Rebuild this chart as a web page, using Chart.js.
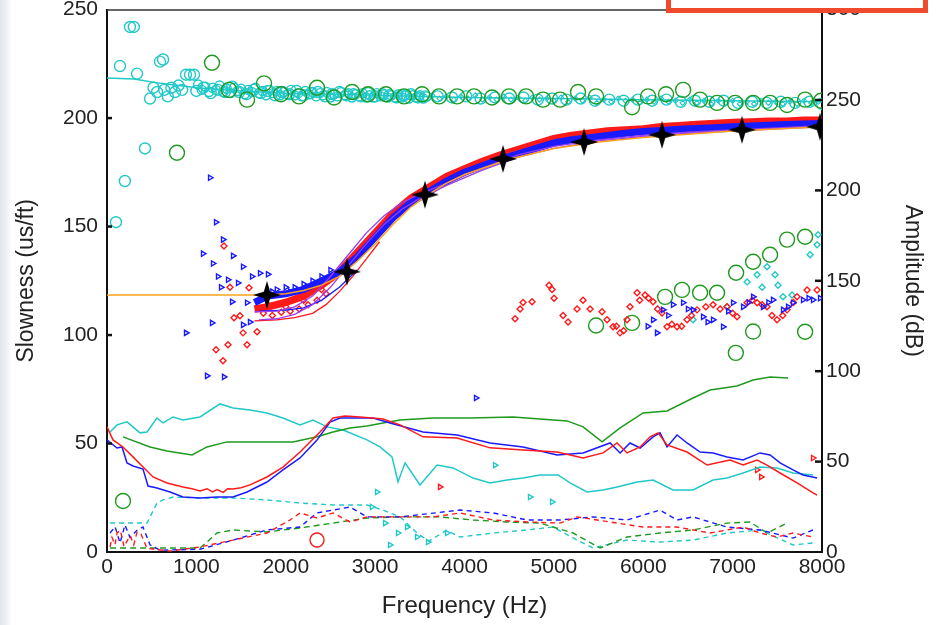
<!DOCTYPE html>
<html>
<head>
<meta charset="utf-8">
<script src="https://cdn.jsdelivr.net/npm/chart.js@4/dist/chart.umd.min.js"></script>
<style>
html,body{margin:0;padding:0;background:#fff;}
#wrap{position:relative;width:938px;height:625px;overflow:hidden;}
#leftStrip{position:absolute;left:0;top:0;width:12px;height:625px;background:linear-gradient(to right,#dfe5ea,#f3f5f7 70%,#ffffff);}
#redBox{position:absolute;left:666px;top:-20px;width:262px;height:33px;box-sizing:border-box;border:5px solid #f0492e;background:#fff;}
canvas{position:absolute;left:0;top:0;}
</style>
</head>
<body>
<div id="wrap">
<canvas id="c" width="938" height="625"></canvas>
<div id="leftStrip"></div>
<div id="redBox"></div>
</div>
<script>
// ---------- tick labels ----------
const xTicks = [0,1000,2000,3000,4000,5000,6000,7000,8000];
const slowTicks = [0,50,100,150,200,250];
const ampTicks = [0,50,100,150,200,250,300];

// ---------- slowness (left axis) ----------
const cyanLineF = [0,300,600,1000,1500,2000,3000,4000,5000,6000,7000,8000];
const cyanLineS = [218.5,218,216,214,212.5,211.5,210.5,209.5,209,208.5,208,207.5];

const cyanCircF = [100,200,145,257,300,336,425,481,520,560,593,627,640,680,720,760,800,840,884,929,973,
  1000,1080,1160,1240,1320,1400,1480,1560,1640,1720,1800,1880,1960,2040,2120,2200,2280,2360,2440,2520,2600,2680,2760,2840,2920,3000,3080,3160,3240,3320,3400,3480,3560,
  3700,3860,4020,4180,4340,4500,4660,4820,4980,5140,5300,5460,5620,5780,5940,6100,6260,6420,6580,6740,6900,7060,7220,7380,7540,7700,7860,8000];
const cyanCircS = [152,171,224,242,242,220.5,186,209,214,212,226,227,213,210,214,212,215,213,220,220,220,
  212.5,214,211.5,213,212,214.5,212,211,213,211.5,212.5,210.5,212,211,212.5,210.5,211.5,212,210,211,212,210.5,211,210,211.5,210,211,210.5,209.5,210.5,211,209.5,210,
  210,209.5,210,209,209.5,209,209.5,208.5,209,208.5,209,208,208.5,208,208.5,208,208.5,207.5,208,207.5,208,207,207.5,207,207.5,207,207.5,206.5];

const cyanBandF = [1020,1060,1100,1140,1180,1220,1260,1300,1340,1380,1420,1460,1500,1540,1580,1620,1660,1700,1740,1780,1820,1860,1900,1940,1980,2020,2060,2100,2140,2180,2220,2260,2300,2340,2380,2420,2460,2500,2540,2580,2620,2660,2700,2740,2780,2820,2860,2900,2940,2980,3020,3060,3100,3140,3180,3220,3260,3300,3340,3380,3420,3460,3500,3540,3580];
const cyanBandS = [215.5,213,214.5,212,214,213,215,212,213.5,211.5,214,212.5,213.5,211,213,212,214,211.5,212.5,210.5,213,211.5,212.5,210.5,212,211,213,210.5,211.5,210,212.5,211,212,210,211.5,210.5,212,209.5,211,210,212,210.5,211.5,209.5,211,210,211.5,209.5,210.5,209.5,211.5,210,211,209.5,210.5,209.5,211,209.5,210.5,209,210.5,209.5,210.5,209,210];

const cyanSmallF = [3640,3720,3800,3880,3960,4040,4120,4200,4280,4360,4440,4520,4600,4680,4760,4840,4920,5000,5080,5160,5240,5320,5400,5480,5560,5640,5720,5800,5880,5960,6040,6120,6200,6280,6360,6440,6520,6600,6680,6760,6840,6920,7000,7080,7160,7240,7320,7400,7480,7560,7640,7720,7800,7880,7960];
const cyanSmallS = [210.5,209,210,208.5,210,209,210.5,208.5,209.5,208.5,210,208.5,209.5,208,209.5,208.5,209,208,209.5,207.5,209,208,209.5,207,208.5,207.5,209,208,208.5,207,208.5,207.5,209,207.5,208,207,208.5,207,208,206.5,208,207,208,206.5,207.5,206.5,208,207,207.5,206.5,207.5,206.5,208,207,207.5];

const greenCircF = [179,783,1175,1365,1567,1757,1947,2148,2350,2540,2742,2920,3122,3323,3525,3715,3917,4107,4308,4498,4689,4879,5069,5270,5472,5875,6054,6255,6446,6636,6826,7027,7229,7419,7609,7811,7990,
  5472,5875,6244,6434,6636,6826,7039,7229,7419,7609,7811,7036,7229,7811];
const greenCircS = [23.5,184,225.5,213,208.5,216,211,210,214,209.5,212,211,211,210,211,210,210,210,209.5,210,210,208.5,208.5,212,210,205,210,211,213,208.5,207,207,207,207,206,208.5,208,
  104.4,105.6,117.6,120.8,119.5,119.5,128.7,133.8,137,144,145.3,91.8,101.6,101.5];

const redCircF = [2350];
const redCircS = [5.5];

const starF = [1790,2686,3558,4431,5338,6210,7105,7978];
const starS = [118.5,129.2,164.7,181.2,189,192.3,194.6,196];

const bandF = [1650,1800,2000,2200,2400,2600,2800,3000,3200,3400,3600,3800,4000,4200,4400,4600,4800,5000,5200,5400,5600,5800,6000,6200,6400,6600,6800,7000,7200,7400,7600,7800,8000];
const redBandS = [112,113,115,118,123,129,138,147,156,163,168,173,176.5,180,183,185.5,188,190.5,192,193,194,194.5,195,196,196.5,197,197.5,198,198.2,198.5,198.5,199,199];
const blueBandS = [115,118,119,121,125,129,136,145,154,161,166,171,175,178,181,183.5,186,188.5,190,191,192,193,193.8,194.3,194.8,195.2,195.6,196,196.4,196.7,197,197.3,197.5];

const orangeF = [0,1800,2000,2200,2400,2600,2800,3000,3200,3400,3600,3800,4000,4500,5000,5500,6000,6500,7000,7500,8000];
const orangeS = [118.4,118.4,119,120.5,123,127,134,142,151,159,165,170,174,181,186,189,191,192.5,194,195,196];

const purple1F = [1650,1900,2100,2300,2500,2700,2900,3100,3300,3500,3800,4200,4600,5000,5500,6000,6500,7000,7500,8000];
const purple1S = [110.7,111,113,118,127,137,147,155,161,165,170,177,183,187,190,192,193.5,194.5,195.5,196.5];
const purple2F = [1700,1900,2100,2300,2500,2700,2900,3100,3300,3500,3800,4200,4600,5000,5500,6000,6500,7000,7500,8000];
const purple2S = [107,107.5,109.5,114,122,132,142,151,158,163,169,176,182,186,189.5,191.5,193,194,195,196];

const redThinF = [1650,1900,2100,2300,2450,2600,2750,2900,3050];
const redThinS = [106.5,107,108,110,114,120,127,135,143];
const blueThinF = [1700,2000,2200,2400,2600,2800];
const blueThinS = [111,111.5,112.5,116,122,130];

const blueScatF = [1153,1220,1298,1074,1410,1186,1522,1242,1354,1276,1466,1623,1712,1801,1399,1567,1175,884,1522,1119,1309,1600,4129,
  6110,6154,6221,6333,6446,6557,6669,6781,6893,7005,7117,7229,7340,7452,7564,7676,7788,7900,7978,6050,6280,6500,6720,6950,7180,7400,7620,7850,
  1900,2000,2100,2200,2300,2400,2500,1850,2050];
const blueScatS = [172.5,152,144,137.5,136.5,133,131.5,127,125.5,122,124,127,128.5,128,115.3,114.9,105.6,101,104.7,81.2,80.7,106,71,
  107,101,111.6,114,114.9,111.6,108.4,107,103.8,114.9,113,117.6,113,116.2,111.6,114.9,116.2,116.2,117,104,109,112,106,111,115,115,113,117,
  121,122,122,123.5,125,127,130,120,120];
const redScatF = [1309,1376,1589,1421,1488,1522,1567,1220,1354,1298,1679,
  4566,4622,4655,4756,4946,4980,5002,5103,5159,5259,5326,5405,5539,5595,5662,5740,5819,5852,5931,6020,6110,6210,6266,6378,6490,6602,6781,6938,7050,7162,7274,7385,7497,7609,7721,7833,7945,
  5700,5780,5960,6060,6160,6320,6430,6540,6700,6860,7000,7220,7330,7440,7560,7680,
  1750,1850,1950,2050,2150,2250,2350,2450,1800,2000,2200,2400];
const redScatS = [141,122,121.8,108,108.9,101,95.5,93.2,95.5,88.1,101.5,
  107.5,112,115,115.3,123,121,117,109,106,112,116,112,110.7,107,103.8,101,107,113,119.5,118.5,115.3,110.2,103.8,103.8,107,111.6,114,113,108.4,114.9,114.9,113,107,111.6,117.6,120.8,120.8,
  104,102,116,117,112,105,104,109,113,112,110,116,114,109,109,115,
  110,109,110.5,111,112,114,116,119,114,113,116,121];
const cyanScatF = [7162,7274,7385,7475,7508,7564,7665,7867,7945,7956,7330,6938,6557];
const cyanScatS = [124.5,127.8,131.5,127.8,123,117.6,118.5,137,141.6,146.2,122,113,107];

// ---------- amplitude (right axis, dB) ----------
const redAmpF = [0,67,179,291,403,515,671,850,950,1041,1120,1180,1231,1300,1350,1410,1500,1600,1790,1969,2160,2383,2529,2663,2831,3088,3279,3536,3917,4286,4655,5036,5327,5551,5707,5819,5965,6077,6166,6266,6490,6714,6971,7117,7274,7385,7531,7721,7900,7945];
const redAmpDb = [69.2,62.0,58.1,52.6,47.0,41.5,38.2,36.0,35.0,33.8,35.0,33.2,34.5,33.0,35.0,34.9,35.5,37.1,41.5,47.0,55.3,66.4,74.1,75.2,74.7,73.6,70.3,63.7,63.1,57.6,56.4,55.3,52.0,54.8,60.3,54.8,58.1,63.7,65.9,59.2,55.3,48.1,50.9,48.1,50.9,48.1,43.7,38.2,32.7,31.5];
const blueAmpF = [0,112,168,224,291,403,459,559,705,850,1041,1231,1410,1567,1790,1969,2160,2350,2495,2607,2977,3167,3536,3917,4286,4655,5036,5327,5629,5741,5852,5965,6110,6188,6266,6378,6490,6636,6781,6938,7117,7307,7419,7531,7676,7788,7945];
const blueAmpDb = [62.0,57.5,58.1,49.3,47.6,45.9,36.5,35.4,33.2,30.4,29.9,30.4,30.4,33.2,38.7,45.4,52.0,61.9,71.9,74.1,74.1,71.4,66.4,64.7,60.3,58.1,53.7,54.8,60.3,54.8,60.3,57.5,63.7,65.9,58.1,64.7,60.3,55.3,54.8,52.6,50.9,54.8,53.7,49.3,45.4,42.6,40.9];
const cyanAmpF = [34,112,224,369,448,559,627,738,850,1041,1264,1410,1600,1790,1969,2160,2305,2462,2641,2909,3055,3189,3256,3335,3502,3693,3872,4096,4286,4476,4655,4845,5047,5181,5371,5551,5707,5931,6110,6333,6557,6781,6938,7117,7307,7497,7676,7900];
const cyanAmpDb = [66.4,70.3,72.0,65.9,66.4,74.1,71.4,74.7,73.0,74.7,81.9,79.7,78.6,76.9,74.1,70.3,73.0,69.2,67.5,62.0,58.1,52.6,38.7,49.3,37.1,48.1,46.5,40.9,38.2,39.8,40.9,42.6,42.6,38.2,33.2,34.3,35.9,38.7,39.8,34.3,34.3,39.8,40.9,43.7,47.0,46.5,43.7,42.6];
const greenAmpF = [179,481,671,951,1119,1343,1600,2081,2350,2529,2719,2909,3088,3279,3648,4062,4543,4845,5148,5327,5540,5741,5998,6266,6557,6748,7050,7229,7419,7620];
const greenAmpDb = [63.7,58.1,55.9,53.7,58.1,60.9,60.9,60.9,63.7,66.4,68.6,69.7,71.4,73.0,74.1,74.1,74.7,73.6,72.5,69.2,60.9,68.6,76.9,78.0,85.2,89.6,91.8,95.1,96.8,96.3];

const cyanDashF = [34,448,559,627,738,1041,1410,1790,2160,2529,2909,3088,3279,3469,3600,3800,3950,4320,4700,4990,5260,5438,5819,6188,6557,6938,7307,7676,7900];
const cyanDashDb = [16,16,27.1,28.8,30.4,29.9,29.9,28.8,27.1,26,26,23.2,19.4,10.5,6,12,8.3,10.5,12.2,13.8,6.6,2.2,6.6,5.5,6.6,10.5,12.2,3.9,5];
const redDashF = [34,56,90,112,150,190,224,260,300,336,380,448,705,1041,1410,1790,2048,2160,2350,2529,2719,2909,3279,3648,3950,4320,4700,5069,5259,5629,5998,6378,6748,7117,7307,7497,7676,7900];
const redDashDb = [2.8,8,4,10.5,12,3,6,9,4,11,10,2,0.5,2.8,6.6,10.5,17.7,21.6,18.8,21.6,16.6,19.4,19.4,19.4,21.6,17.7,16.6,16,19.4,16.6,13.8,13.8,10.5,13.8,10.5,8.3,10.5,8.3];
const blueDashF = [34,90,146,201,257,336,403,481,593,1041,1410,1790,2160,2350,2529,2719,2909,3279,3950,4320,4700,5069,5438,5819,6188,6378,6557,6938,7307,7676,7900];
const blueDashDb = [10.5,14,5,15,8,12,13.8,4,1,1.5,6.6,12.2,13.8,21.6,23.2,24.9,19.4,19.4,23.2,21.6,17.7,17.7,19.4,17.7,23.2,17.7,19.4,13.8,12.2,7.7,12.2];
const greenDashF = [34,1041,1231,1410,1790,2160,2529,2909,3279,3726,4096,4476,4845,5215,5517,5819,6188,6557,6938,7195,7385,7609];
const greenDashDb = [2.2,2.2,10.5,12.2,11.1,13.3,16,18.8,19.4,19.4,17.7,16.6,16,10.5,2.2,8.3,10.5,12.2,16,16.6,10.5,16];

const cyanLowF = [3021,4342,4733,4980,3167,3256,3357,3469,3592,3805,3111,2965];
const cyanLowDb = [33.2,48,30.4,27.7,3.9,10.5,13.8,8.3,5.5,10.5,16,24.9];
const redLowF = [3726,7900,7274,7320];
const redLowDb = [36,52,45.4,41.5];

// ---------- helpers ----------
const pts = (xs, ys) => xs.map((x, i) => ({x: x, y: ys[i]}));

function makeStar() {
  const c = document.createElement('canvas');
  c.width = 30; c.height = 30;
  const g = c.getContext('2d');
  g.translate(15, 15);
  g.beginPath();
  for (let i = 0; i < 8; i++) {
    const a = i * Math.PI / 4 - Math.PI / 2;
    const r = (i % 2 === 0) ? 14 : 4.5;
    g.lineTo(Math.cos(a) * r, Math.sin(a) * r);
  }
  g.closePath();
  g.fillStyle = '#000';
  g.fill();
  return c;
}
const star = makeStar();

const CY = '#22c8c8', RD = '#ff1a1a', BL = '#1a1aff', GR = '#1f9a1f', OR = '#ffa21a', PU = '#9a3cf0';

function line(data, color, w, axis, dash) {
  return {data, showLine: true, borderColor: color, borderWidth: w, pointRadius: 0, yAxisID: axis,
    borderDash: dash || [], tension: 0, fill: false};
}
function marks(data, color, style, r, axis, rot, bw) {
  return {data, showLine: false, pointStyle: style, pointRadius: r, pointBorderColor: color,
    pointBackgroundColor: 'rgba(0,0,0,0)', pointBorderWidth: bw || 1.4, pointRotation: rot || 0, yAxisID: axis};
}

function buildDatasets() {
  return [
    {data: pts(starF, starS), showLine: false, pointStyle: star, pointRadius: 14, yAxisID: 'y'},
    line(pts(orangeF, orangeS), OR, 1.5, 'y'),
    line(pts(purple1F, purple1S), PU, 1.3, 'y'),
    line(pts(purple2F, purple2S), PU, 1.3, 'y'),
    line(pts(blueThinF, blueThinS), BL, 1.3, 'y'),
    line(pts(redThinF, redThinS), RD, 1.3, 'y'),
    line(pts(bandF, blueBandS), BL, 7, 'y'),
    line(pts(bandF, redBandS), RD, 7.5, 'y'),
    marks(pts(blueScatF, blueScatS), BL, 'triangle', 3, 'y', 90),
    marks(pts(redScatF, redScatS), RD, 'rectRot', 3, 'y', 0),
    marks(pts(cyanScatF, cyanScatS), CY, 'rectRot', 3, 'y', 0),
    marks(pts(greenCircF, greenCircS), GR, 'circle', 7.5, 'y'),
    marks(pts(redCircF, redCircS), RD, 'circle', 7, 'y'),
    line(pts(cyanLineF, cyanLineS), CY, 1.5, 'y'),
    marks(pts(cyanCircF, cyanCircS), CY, 'circle', 5.5, 'y'),
    marks(pts(cyanBandF, cyanBandS), CY, 'circle', 4.5, 'y'),
    marks(pts(cyanSmallF, cyanSmallS), CY, 'rectRot', 2.5, 'y', 0, 1.1),
    line(pts(redAmpF, redAmpDb), RD, 1.5, 'y2'),
    line(pts(blueAmpF, blueAmpDb), BL, 1.5, 'y2'),
    line(pts(greenAmpF, greenAmpDb), GR, 1.5, 'y2'),
    line(pts(cyanAmpF, cyanAmpDb), CY, 1.5, 'y2'),
    line(pts(redDashF, redDashDb), RD, 1.4, 'y2', [5, 4]),
    line(pts(blueDashF, blueDashDb), BL, 1.4, 'y2', [5, 4]),
    line(pts(greenDashF, greenDashDb), GR, 1.4, 'y2', [6, 4]),
    line(pts(cyanDashF, cyanDashDb), CY, 1.4, 'y2', [5, 4]),
    marks(pts(cyanLowF, cyanLowDb), CY, 'triangle', 3, 'y2', 90),
    marks(pts(redLowF, redLowDb), RD, 'triangle', 3, 'y2', 90)
  ];
}

const FONT = 'Liberation Sans, Arial, sans-serif';
const TXT = '#222';
const plain = v => String(v);

const frame = {
  id: 'frame',
  afterDraw(chart) {
    const {ctx, chartArea: a, scales} = chart;
    ctx.save();
    ctx.strokeStyle = '#333';
    ctx.lineWidth = 1.5;
    ctx.beginPath();
    ctx.moveTo(a.left, a.top + 0.5);
    ctx.lineTo(a.right, a.top + 0.5);
    ctx.stroke();
    ctx.strokeStyle = '#111';
    ctx.lineWidth = 2.5;
    scales.y.ticks.forEach(t => {
      if (t.value === 0 || t.value === 250) return;
      const p = scales.y.getPixelForValue(t.value);
      ctx.beginPath(); ctx.moveTo(a.left, p); ctx.lineTo(a.left + 5, p); ctx.stroke();
    });
    scales.y2.ticks.forEach(t => {
      if (t.value === 0 || t.value === 300) return;
      const p = scales.y2.getPixelForValue(t.value);
      ctx.beginPath(); ctx.moveTo(a.right, p); ctx.lineTo(a.right - 7, p); ctx.stroke();
    });
    ctx.restore();
  }
};

function config() {
  return {
    type: 'scatter',
    data: {datasets: buildDatasets()},
    plugins: [frame],
    options: {
      responsive: false, animation: false, events: [],
      layout: {padding: {top: 0, left: 0, right: 0, bottom: 0}},
      plugins: {legend: {display: false}, tooltip: {enabled: false}},
      scales: {
        x: {
          type: 'linear', min: 0, max: 8000,
          afterBuildTicks: s => { s.ticks = xTicks.map(v => ({value: v})); },
          afterFit: s => { s.height = 73; },
          ticks: {color: TXT, font: {family: FONT, size: 21}, padding: 3, maxRotation: 0, autoSkip: false, callback: plain},
          grid: {display: false, drawTicks: false},
          border: {color: '#111', width: 2},
          title: {display: true, text: 'Frequency (Hz)', color: TXT, font: {family: FONT, size: 24}, padding: {top: 0, bottom: 4}}
        },
        y: {
          type: 'linear', position: 'left', min: 0, max: 250,
          afterBuildTicks: s => { s.ticks = slowTicks.map(v => ({value: v})); },
          afterFit: s => { s.width = 107; },
          ticks: {color: TXT, font: {family: FONT, size: 21}, padding: 9, callback: plain},
          grid: {display: false, drawTicks: false},
          border: {color: '#111', width: 2},
          title: {display: true, text: 'Slowness (us/ft)', color: TXT, font: {family: FONT, size: 23}, padding: {top: 13, bottom: 0}}
        },
        y2: {
          type: 'linear', position: 'right', min: 0, max: 300,
          afterBuildTicks: s => { s.ticks = ampTicks.map(v => ({value: v})); },
          afterFit: s => { s.width = 116; },
          ticks: {color: TXT, font: {family: FONT, size: 21}, padding: 4, callback: plain},
          grid: {display: false, drawTicks: false},
          border: {color: '#111', width: 2},
          title: {display: true, text: 'Amplitude (dB)', color: TXT, font: {family: FONT, size: 23}, padding: {top: 12, bottom: 0}}
        }
      }
    }
  };
}

// First pass: find where Chart.js puts the top of the plot, then rebuild on a taller
// canvas shifted upward so the plot spans y = 10 .. 552 of the page like the reference.
let canvas = document.getElementById('c');
let chart = new Chart(canvas, config());
const d = Math.round(chart.chartArea.top - 10);
if (d > 0) {
  chart.destroy();
  const wrap = document.getElementById('wrap');
  const fresh = document.createElement('canvas');
  fresh.width = 938;
  fresh.height = 625 + d;
  fresh.style.top = (-d) + 'px';
  wrap.replaceChild(fresh, canvas);
  canvas = fresh;
  chart = new Chart(canvas, config());
}
</script>
</body>
</html>
